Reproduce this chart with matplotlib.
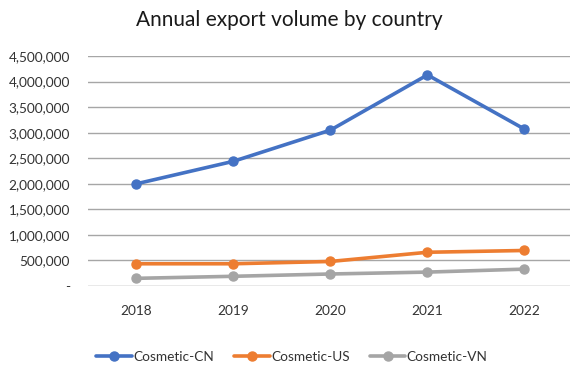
import matplotlib
matplotlib.use("Agg")
import matplotlib.pyplot as plt
from matplotlib.ticker import FuncFormatter

plt.rcParams['font.family'] = ['Lato', 'DejaVu Sans']

years = ["2018", "2019", "2020", "2021", "2022"]
cosmetic_cn = [2000000, 2440000, 3050000, 4130000, 3070000]
cosmetic_us = [435000, 435000, 480000, 660000, 695000]
cosmetic_vn = [150000, 190000, 235000, 272000, 330000]
series_names = ["Cosmetic-CN", "Cosmetic-US", "Cosmetic-VN"]
y_ticks = [0, 500000, 1000000, 1500000, 2000000, 2500000, 3000000, 3500000, 4000000, 4500000]

colors = ["#4472C4", "#ED7D31", "#A5A5A5"]

W, H = 570, 367
fig = plt.figure(figsize=(W / 100, H / 100), dpi=100)
left, right, top, bottom = 88, 570, 56, 286
ax = fig.add_axes([left / W, 1 - bottom / H, (right - left) / W, (bottom - top) / H])

x = list(range(len(years)))
for vals, name, c in zip([cosmetic_cn, cosmetic_us, cosmetic_vn], series_names, colors):
    ax.plot(x, vals, color=c, lw=2.6, marker="o", markersize=6.5, label=name,
            solid_capstyle="round", zorder=3)

ax.set_xlim(-0.5, 4.47)
ax.set_ylim(0, 4500000)
ax.set_yticks(y_ticks)
ax.yaxis.set_major_formatter(FuncFormatter(lambda v, p: "-" if v == 0 else f"{int(v):,}"))
ax.set_xticks(x)
ax.set_xticklabels(years)

ax.grid(axis="y", color="#A6A6A6", lw=1.0, zorder=0)
ax.set_axisbelow(True)
for s in ["top", "right", "left", "bottom"]:
    ax.spines[s].set_visible(False)
ax.axhline(0, color="#D9D9D9", lw=1.0, zorder=1)
ax.tick_params(axis="both", length=0, labelsize=9.8, labelcolor="#333333")
ax.tick_params(axis="y", pad=13)
ax.tick_params(axis="x", pad=14)

fig.text(289 / W, 1 - 20 / H, "Annual export volume by country", ha="center", va="center",
         fontsize=15, color="#1a1a1a")

leg = fig.legend(loc="center", bbox_to_anchor=(292 / W, 1 - 357 / H), ncol=3, frameon=False,
                 fontsize=9.8, handlelength=2.6, handletextpad=0.1, columnspacing=1.5)
for t in leg.get_texts():
    t.set_color("#333333")

fig.savefig("out.png", dpi=100)
